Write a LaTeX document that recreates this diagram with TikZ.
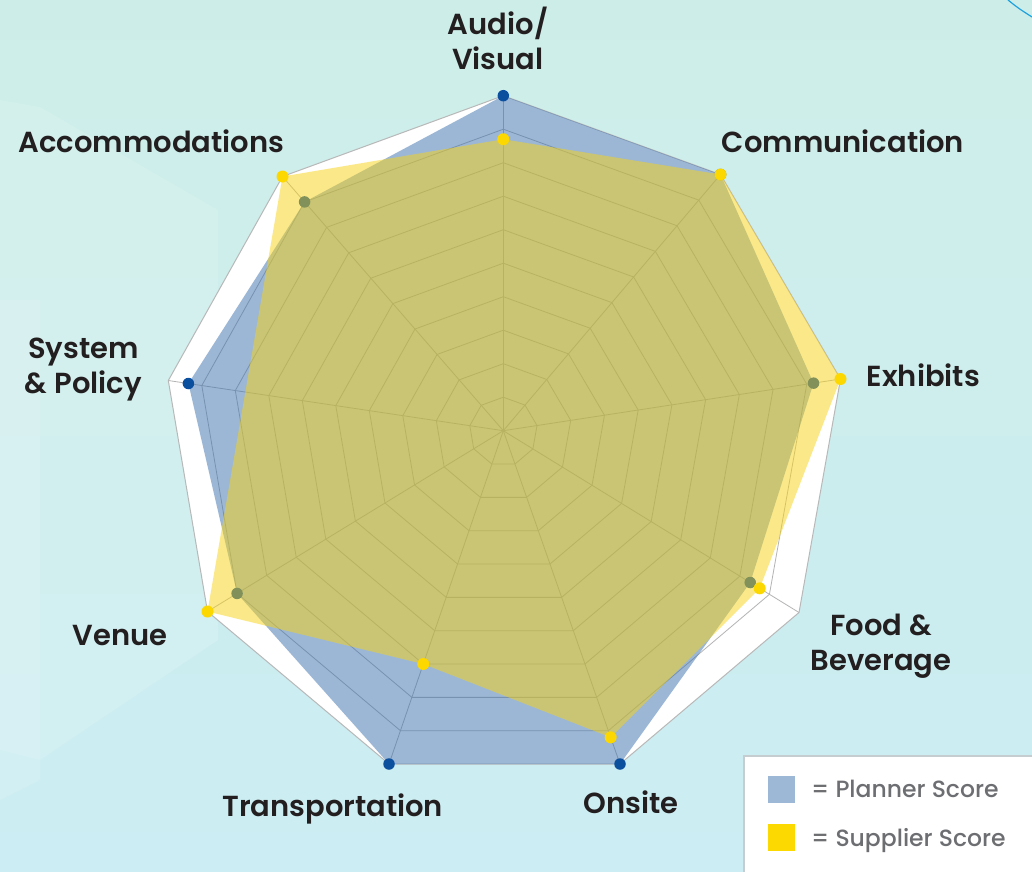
\documentclass[tikz,border=0pt]{standalone}
\usepackage{fontspec}
\usetikzlibrary{calc}
\newfontfamily\lblfont{Poppins}[UprightFont={* SemiBold}]
\newfontfamily\legfont{Poppins}[UprightFont={* Medium}]
\definecolor{bgtop}{HTML}{CDEEE8}
\definecolor{bgbot}{HTML}{CCEDF3}
\definecolor{gridc}{HTML}{B4B4B4}
\definecolor{outc}{HTML}{B8B8B8}
\definecolor{bluef}{HTML}{3B71AD}
\definecolor{yelf}{HTML}{F7D315}
\definecolor{pdotc}{HTML}{0B4F9F}
\definecolor{sdotc}{HTML}{FCD700}
\definecolor{labc}{HTML}{231F20}
\definecolor{legc}{HTML}{6D6E71}
\definecolor{legb}{HTML}{C5CDD0}
\definecolor{legblue}{HTML}{9DB8D6}
\definecolor{legyel}{HTML}{FCD900}
\definecolor{accline}{HTML}{1DA1DF}
\begin{document}
\begin{tikzpicture}[x=1pt,y=-1pt,
  grid/.style={draw=gridc, line width=0.8pt},
  pdot/.style={circle, fill=pdotc, inner sep=0pt, minimum size=11.5pt},
  sdot/.style={circle, fill=sdotc, inner sep=0pt, minimum size=12pt},
  bluefill/.style={fill=bluef, fill opacity=0.5},
  yelfill/.style={fill=yelf, fill opacity=0.5},
  lbl/.style={font=\lblfont\fontsize{29}{35}\selectfont, text=labc, anchor=base, align=center, inner sep=0pt},
  leg/.style={font=\legfont\fontsize{23.5}{28}\selectfont, text=legc, anchor=base west, inner sep=0pt},
  deco/.style={fill=white, fill opacity=0.12}
]
\useasboundingbox (0,0) rectangle (1032,871);
% background
\shade[top color=bgtop, bottom color=bgbot] (0,0) rectangle (1032,871);
\fill[deco] (0,100) -- (40,107) -- (218,210) -- (218,640) -- (40,760) -- (0,750) -- cycle;
\fill[deco] (0,300) -- (40,300) -- (40,780) -- (0,800) -- cycle;
\draw[draw=accline, line width=1.2pt] (1008,0) .. controls (1018,8) .. (1032,17);
% geometry
\coordinate (O) at (503.3,430.7);
\coordinate (V0) at (503.3,95.7);
\coordinate (V1) at (720.5,174.5);
\coordinate (V2) at (840.5,379);
\coordinate (V3) at (799,612.5);
\coordinate (V4) at (620,764);
\coordinate (V5) at (389,764);
\coordinate (V6) at (207.5,611.5);
\coordinate (V7) at (168.3,380.5);
\coordinate (V8) at (282.5,176.5);
% plot area
\filldraw[fill=white, draw=outc, line width=1pt] (V0) -- (V1) -- (V2) -- (V3) -- (V4) -- (V5) -- (V6) -- (V7) -- (V8) -- cycle;
\foreach \r in {1,...,9} {
  \pgfmathsetmacro\f{\r/10}
  \draw[grid] ($(O)!\f!(V0)$) -- ($(O)!\f!(V1)$) -- ($(O)!\f!(V2)$) -- ($(O)!\f!(V3)$) -- ($(O)!\f!(V4)$) -- ($(O)!\f!(V5)$) -- ($(O)!\f!(V6)$) -- ($(O)!\f!(V7)$) -- ($(O)!\f!(V8)$) -- cycle;
}
\foreach \k in {0,...,8} { \draw[grid] (O) -- (V\k); }
% planner
\foreach \k/\v in {0/1,1/1,2/0.92,3/0.835,4/1,5/1,6/0.9,7/0.94,8/0.9} {
  \coordinate (P\k) at ($(O)!\v!(V\k)$);
}
\fill[bluefill] (P0) -- (P1) -- (P2) -- (P3) -- (P4) -- (P5) -- (P6) -- (P7) -- (P8) -- cycle;
\foreach \k in {0,...,8} { \node[pdot] (pd\k) at (P\k) {}; }
% supplier
\foreach \k/\v in {0/0.87,1/1,2/1,3/0.867,4/0.92,5/0.70,6/1,8/1} {
  \coordinate (S\k) at ($(O)!\v!(V\k)$);
}
\fill[yelfill] (S0) -- (S1) -- (S2) -- (S3) -- (S4) -- (S5) -- (S6) -- (S8) -- cycle;
\foreach \k in {0,1,2,3,4,5,6,8} { \node[sdot] (sd\k) at (S\k) {}; }
% labels (base = baseline of last line)
\node[lbl] (lav) at (498,69) {Audio/\\Visual};
\node[lbl] (lcom) at (843,152) {Communication};
\node[lbl] (lacc) at (151.5,152) {Accommodations};
\node[lbl] (lexh) at (923.4,386) {Exhibits};
\node[lbl] (lfood) at (881,670) {Food \&\\Beverage};
\node[lbl] (lons) at (631.2,813.3) {Onsite};
\node[lbl] (ltra) at (332.7,816) {Transportation};
\node[lbl] (lven) at (120,645) {Venue};
\node[lbl] (lsys) at (83.3,393.3) {System\\\& Policy};
% legend
\filldraw[draw=legb, fill=white, line width=1.5pt] (744,756) rectangle (1045,885);
\fill[legblue] (768,776) rectangle (795,803);
\fill[legyel] (768,824) rectangle (795,851);
\node[leg] (lp) at (811,797.3) {= Planner Score};
\node[leg] (ls) at (811,846) {= Supplier Score};
\end{tikzpicture}
\end{document}
